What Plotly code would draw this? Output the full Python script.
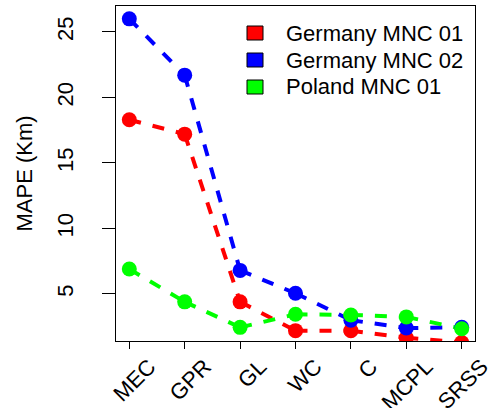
import plotly.graph_objects as go

categories = ["MEC", "GPR", "GL", "WC", "C", "MCPL", "SRSS"]
germany_mnc_01 = [18.3, 17.2, 4.4, 2.2, 2.2, 1.65, 1.3]
germany_mnc_02 = [26.0, 21.7, 6.8, 5.05, 3.0, 2.4, 2.45]
poland_mnc_01 = [6.9, 4.4, 2.45, 3.45, 3.4, 3.25, 2.35]
y_ticks = [5, 10, 15, 20, 25]

series = [
    ("Germany MNC 01", germany_mnc_01, "#FF0000"),
    ("Germany MNC 02", germany_mnc_02, "#0000FF"),
    ("Poland MNC 01", poland_mnc_01, "#00FF00"),
]

FONT = "Liberation Sans, Arial, Helvetica, sans-serif"
W, H = 490, 408
ML, MR, MT, MB = 116, 15, 6, 67
PW, PH = W - ML - MR, H - MT - MB

fig = go.Figure()

for name, vals, col in series:
    xs, ys = [], []
    for i in range(len(categories) - 1):
        xs += [i, i + 1, None]
        ys += [vals[i], vals[i + 1], None]
    fig.add_trace(go.Scatter(
        x=xs, y=ys, mode="lines", connectgaps=False,
        line=dict(color=col, width=4, dash="12px,12px"),
        showlegend=False, hoverinfo="skip"))
for name, vals, col in series:
    fig.add_trace(go.Scatter(
        x=list(range(len(categories))), y=vals, mode="markers",
        marker=dict(color=col, size=15, line=dict(width=0)),
        showlegend=False, name=name))

def px_x(p):
    return (p - ML) / PW

def px_y(p):
    return 1 - (p - MT) / PH

for k, (name, vals, col) in enumerate(series):
    cy = 33 + 27 * k
    fig.add_shape(type="rect", xref="paper", yref="paper",
                  x0=px_x(247), x1=px_x(263), y0=px_y(cy + 7), y1=px_y(cy - 7),
                  fillcolor=col, line=dict(color="black", width=1))
    fig.add_annotation(x=px_x(284), y=px_y(cy), xref="paper", yref="paper",
                       text=name, showarrow=False, xanchor="left", yanchor="middle",
                       font=dict(size=22, family=FONT, color="black"))

fig.update_layout(
    width=W, height=H, showlegend=False,
    margin=dict(l=ML, r=MR, t=MT, b=MB),
    paper_bgcolor="white", plot_bgcolor="white",
    font=dict(family=FONT, size=22, color="black"),
    xaxis=dict(
        range=[-0.24, 6.24], tickmode="array",
        tickvals=list(range(len(categories))), ticktext=categories,
        tickangle=-45, ticks="outside", ticklen=7, tickcolor="black",
        ticklabelshift=20, ticklabelstandoff=-4, ticklabeloverflow="allow",
        showline=True, linecolor="black", linewidth=1, mirror=True,
        showgrid=False, zeroline=False, tickfont=dict(size=22),
        automargin=False),
    yaxis=dict(
        range=[1.41, 26.98], tickmode="array", tickvals=y_ticks,
        ticktext=[str(v) for v in y_ticks],
        tickangle=-90, ticks="outside", ticklen=13, tickcolor="black",
        ticklabelstandoff=20,
        showline=True, linecolor="black", linewidth=1, mirror=True,
        showgrid=False, zeroline=False, tickfont=dict(size=22),
        automargin=False,
        title=dict(text="MAPE (Km)", font=dict(size=22), standoff=14)),
)

fig.write_html(
    "out.html",
    config={"displayModeBar": False},
    post_script="document.body.style.margin='0';document.body.style.overflow='hidden';",
)
